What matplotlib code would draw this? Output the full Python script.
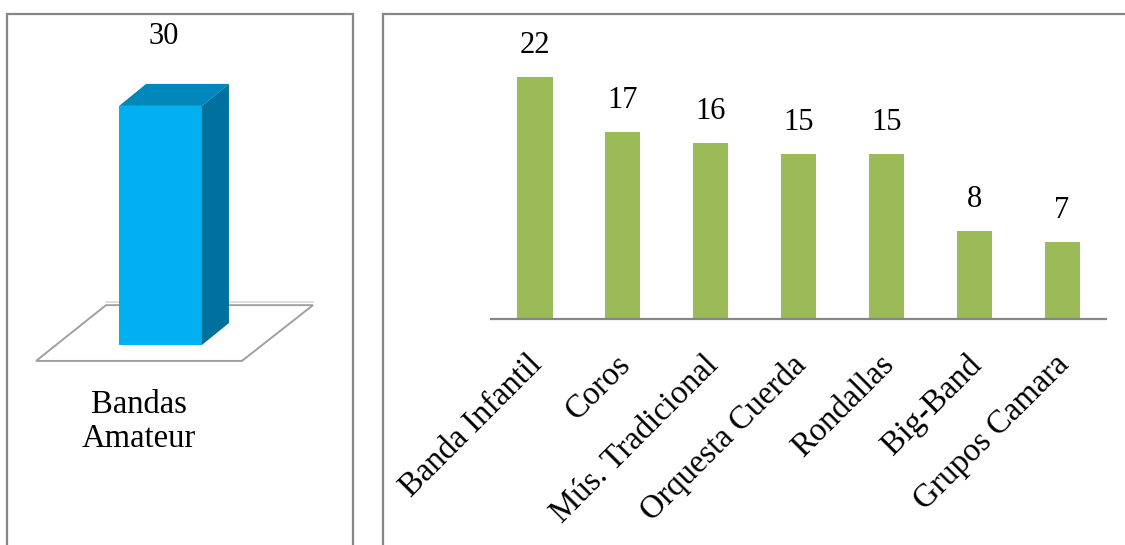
import matplotlib
matplotlib.use("Agg")
import matplotlib.pyplot as plt
from matplotlib.patches import Polygon, Rectangle
import matplotlib.transforms as mtransforms

# ---- data ----
main_category = "Bandas\nAmateur"
main_value = 30

categories = ["Banda Infantil", "Coros", "Mús. Tradicional", "Orquesta Cuerda",
              "Rondallas", "Big-Band", "Grupos Camara"]
values = [22, 17, 16, 15, 15, 8, 7]

# ---- styling ----
W, H = 1125, 545
plt.rcParams['font.family'] = ['Liberation Serif', 'DejaVu Serif']
FRAME = '#868686'
BLUE_FRONT = '#00B0F0'
BLUE_TOP = '#0088BC'
BLUE_SIDE = '#00719E'
GREEN = '#9BBB59'
LABEL_SIZE = 23.5
VALUE_SIZE = 22

fig = plt.figure(figsize=(W / 100, H / 100), dpi=100)


def frame(x0, x1, top):
    """Open-bottomed panel frame, given in pixel positions."""
    r = Rectangle((x0 / W, -0.1), (x1 - x0) / W, 0.1 + (H - top) / H,
                  transform=fig.transFigure, fill=False, ec=FRAME, lw=1.6,
                  clip_on=False)
    fig.patches.append(r)


frame(7, 353, 14)
frame(383, 1140, 14)

# ---- left panel: single 3-D style column on a floor ----
ax1 = fig.add_axes([7 / W, 0, 346 / W, 1])
ax1.axis('off')
xunit = 138.0          # pixels per category unit
yunit = 7.97           # pixels per value unit
cx, base = 160.5, 345  # pixel position of column centre / baseline
ax1.set_xlim((7 - cx) / xunit, (353 - cx) / xunit)
ax1.set_ylim(-(H - base) / yunit, base / yunit)

bw = 0.6
ddx, ddy = 0.196, 2.76   # depth offset of the column
floor = [(-0.902, -2.0), (0.59, -2.0), (1.105, 5.0), (-0.395, 5.0)]
ax1.add_patch(Polygon(floor, closed=True, fc='white', ec='#A0A0A0', lw=1.4, zorder=1))
ax1.plot([floor[3][0], floor[2][0]], [floor[3][1] + 0.35, floor[2][1] + 0.35],
         color='#D8D8D8', lw=1.2, zorder=1)

ax1.bar(0, main_value, width=bw, color=BLUE_FRONT, zorder=3)
x0, x1 = -bw / 2, bw / 2
top_face = [(x0, main_value), (x1, main_value),
            (x1 + ddx, main_value + ddy), (x0 + ddx, main_value + ddy)]
side_face = [(x1, 0), (x1, main_value), (x1 + ddx, main_value + ddy), (x1 + ddx, ddy)]
ax1.add_patch(Polygon(top_face, closed=True, fc=BLUE_TOP, ec='none', zorder=3))
ax1.add_patch(Polygon(side_face, closed=True, fc=BLUE_SIDE, ec='none', zorder=3))

ax1.annotate(str(main_value), xy=(0, main_value), xytext=(2, 50),
             textcoords='offset points', ha='center', va='center',
             fontsize=VALUE_SIZE)
ax1.annotate(main_category, xy=((floor[0][0] + floor[1][0]) / 2, floor[0][1]),
             xytext=(0, -44), textcoords='offset points', ha='center',
             va='center', multialignment='center', fontsize=LABEL_SIZE,
             linespacing=1.15)

# ---- right panel: flat green columns ----
ax2 = fig.add_axes([491 / W, (H - 319) / H, (1106 - 491) / W, (319 - 14) / H])
x = list(range(len(categories)))
ax2.bar(x, values, width=0.4, color=GREEN, zorder=2)
ax2.set_xlim(-0.5, len(categories) - 0.5)
ax2.set_ylim(0, (319 - 14) / 11.0)
for s in ('top', 'left', 'right'):
    ax2.spines[s].set_visible(False)
ax2.spines['bottom'].set_color(FRAME)
ax2.spines['bottom'].set_linewidth(1.6)
ax2.set_yticks([])
ax2.set_xticks(x)
ax2.set_xticklabels(categories, fontsize=LABEL_SIZE, rotation=45,
                    ha='right', va='top', rotation_mode='anchor')
ax2.tick_params(axis='x', length=0, pad=22)
shift = mtransforms.ScaledTranslation(-8 / 100, 0, fig.dpi_scale_trans)
for lab in ax2.get_xticklabels():
    lab.set_transform(lab.get_transform() + shift)

for xi, v in zip(x, values):
    ax2.annotate(str(v), xy=(xi, v), xytext=(0, 23), textcoords='offset points',
                 ha='center', va='center', fontsize=VALUE_SIZE)

fig.savefig('out.png', dpi=100)
